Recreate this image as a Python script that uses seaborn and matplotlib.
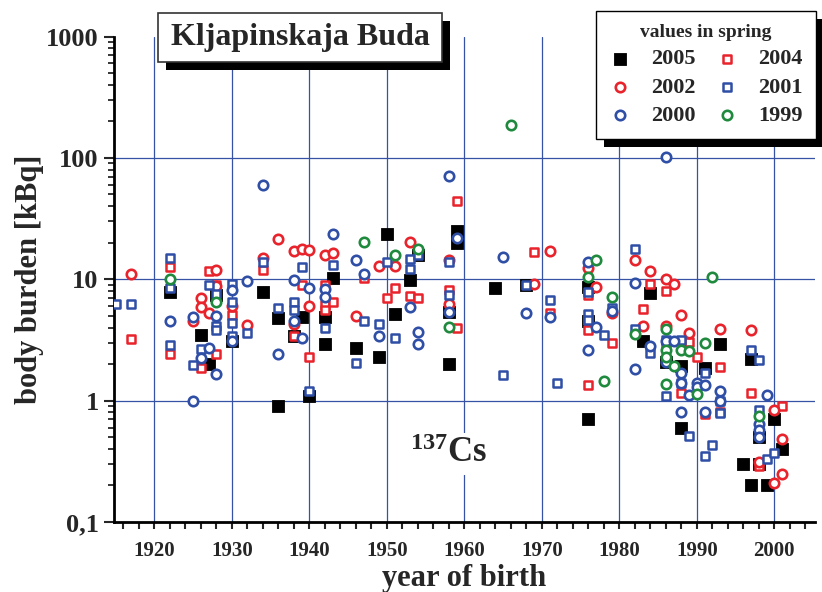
import pandas as pd
import seaborn as sns
import matplotlib.pyplot as plt
from matplotlib.patches import Rectangle
from matplotlib.ticker import MultipleLocator, LogLocator, NullFormatter

# 137Cs body burden [kBq] by year of birth, spring measurements
yr_2005 = [1922, 1926, 1927, 1928, 1930, 1934, 1936, 1936, 1938, 1939, 1940, 1942, 1942, 1943, 1946,
           1949, 1950, 1951, 1953, 1954, 1958, 1958, 1959, 1959, 1964, 1968, 1976, 1976, 1976, 1983,
           1984, 1986, 1988, 1988, 1991, 1993, 1996, 1997, 1997, 1998, 1998, 1999, 2000, 2001]
kbq_2005 = [7.8, 3.5, 2.0, 7.4, 3.1, 7.9, 4.8, 0.9, 3.4, 4.9, 1.09, 4.9, 2.93, 10.3, 2.7,
            2.3, 23.5, 5.15, 9.9, 15.9, 5.4, 2.0, 25, 20, 8.5, 9.0, 8.7, 4.5, 0.70, 3.1,
            7.65, 2.1, 1.93, 0.60, 1.85, 2.93, 0.30, 2.2, 0.20, 0.50, 0.30, 0.20, 0.71, 0.40]

yr_2004 = [1917, 1922, 1922, 1926, 1927, 1928, 1928, 1930, 1934, 1938, 1939, 1940, 1942, 1942, 1942,
           1943, 1947, 1950, 1951, 1953, 1954, 1958, 1959, 1959, 1969, 1971, 1976, 1976, 1976, 1976,
           1979, 1983, 1984, 1986, 1986, 1988, 1989, 1990, 1991, 1993, 1993, 1997, 1998, 2001]
kbq_2004 = [3.2, 12.5, 2.4, 1.87, 11.7, 9.0, 2.4, 5.1, 12.0, 3.4, 9.0, 2.3, 9.0, 6.1, 5.6,
            6.5, 10.2, 7.05, 8.4, 7.3, 7.0, 8.2, 44, 4.0, 16.8, 5.3, 7.4, 4.6, 3.8, 1.34,
            2.97, 5.66, 9.2, 8.0, 2.7, 1.16, 3.05, 2.3, 0.77, 1.88, 0.8, 1.16, 0.29, 0.90]

yr_2002 = [1917, 1925, 1926, 1926, 1927, 1928, 1928, 1930, 1932, 1934, 1936, 1938, 1938, 1939, 1940,
           1940, 1942, 1943, 1946, 1949, 1951, 1953, 1958, 1958, 1969, 1971, 1976, 1977, 1979, 1982,
           1983, 1984, 1986, 1986, 1987, 1988, 1989, 1993, 1997, 1998, 2000, 2000, 2001, 2001]
kbq_2002 = [11, 4.5, 7.0, 5.9, 5.3, 12, 8.8, 6.0, 4.2, 15, 21.5, 17, 4.3, 17.8, 17.4,
            6.0, 15.9, 16.4, 5.0, 12.9, 12.9, 20.4, 14.4, 6.2, 9.1, 17, 12.3, 8.7, 5.25, 14.4,
            4.1, 11.8, 10, 4.1, 9.2, 5.1, 3.6, 3.87, 3.8, 0.31, 0.84, 0.21, 0.48, 0.25]

yr_2001 = [1915, 1917, 1922, 1922, 1922, 1925, 1926, 1927, 1928, 1928, 1928, 1930, 1930, 1930, 1930,
           1932, 1934, 1936, 1938, 1938, 1939, 1940, 1942, 1943, 1946, 1947, 1949, 1950, 1951, 1953,
           1953, 1954, 1958, 1958, 1965, 1968, 1971, 1972, 1976, 1976, 1976, 1978, 1979, 1982, 1982,
           1984, 1986, 1986, 1988, 1988, 1989, 1991, 1991, 1992, 1993, 1993, 1997, 1998, 1998, 1999,
           2000]
kbq_2001 = [6.3, 6.3, 15, 8.4, 2.9, 1.97, 2.65, 9.0, 7.6, 4.1, 3.8, 9.1, 6.5, 4.4, 3.4,
            3.6, 14, 5.8, 6.5, 5.6, 12.5, 1.19, 4.0, 13, 2.03, 4.5, 4.3, 14, 3.25, 14.8,
            12.1, 15.9, 14, 7.4, 1.63, 9.0, 6.7, 1.41, 7.9, 5.2, 4.6, 3.5, 5.8, 17.7, 3.87,
            2.45, 3.16, 1.1, 3.16, 1.39, 0.51, 1.7, 0.35, 0.43, 1.0, 0.79, 2.6, 2.18, 0.84, 0.33,
            0.37]

yr_2000 = [1922, 1925, 1925, 1926, 1927, 1928, 1928, 1930, 1930, 1932, 1934, 1936, 1938, 1938, 1939,
           1940, 1942, 1942, 1943, 1946, 1947, 1949, 1953, 1954, 1954, 1958, 1958, 1959, 1965, 1968,
           1971, 1976, 1976, 1977, 1979, 1982, 1982, 1984, 1986, 1986, 1986, 1987, 1988, 1988, 1988,
           1989, 1990, 1990, 1991, 1991, 1993, 1993, 1998, 1998, 1998, 1999]
kbq_2000 = [4.56, 4.9, 1.0, 2.26, 2.73, 5.0, 1.67, 8.2, 3.1, 9.6, 60, 2.4, 9.9, 4.5, 3.26,
            8.4, 8.3, 7.2, 23.6, 14.4, 11, 3.4, 5.95, 3.7, 2.93, 71, 5.4, 22, 15.2, 5.3,
            4.9, 14, 2.6, 4.07, 5.5, 9.3, 1.81, 2.82, 101, 3.12, 2.09, 3.12, 1.7, 1.39, 0.80,
            1.11, 1.41, 1.3, 1.35, 0.80, 1.21, 1.0, 0.64, 0.57, 0.50, 1.11]

yr_1999 = [1922, 1928, 1947, 1951, 1954, 1958, 1966, 1976, 1977, 1978, 1979, 1982, 1986, 1986, 1986,
           1986, 1987, 1988, 1989, 1990, 1991, 1992, 1998]
kbq_1999 = [10, 6.5, 20.2, 15.7, 17.7, 4.03, 187, 10.5, 14.4, 1.45, 7.2, 3.54, 3.9, 2.6, 2.3,
            1.37, 1.93, 2.61, 2.55, 1.14, 2.97, 10.5, 0.74]

RED = '#e8232b'
BLUE = '#2f4ea6'
GREEN = '#1f8a3e'
GRID = '#3552a5'

# (label, years, values, marker, face, edge, size, lw)
series = [
    ('2005', yr_2005, kbq_2005, 's', 'black', 'black', 82, 0.6),
    ('2004', yr_2004, kbq_2004, 's', 'white', RED, 36, 1.8),
    ('2002', yr_2002, kbq_2002, 'o', 'white', RED, 46, 1.9),
    ('2001', yr_2001, kbq_2001, 's', 'white', BLUE, 36, 1.8),
    ('2000', yr_2000, kbq_2000, 'o', 'white', BLUE, 46, 1.9),
    ('1999', yr_1999, kbq_1999, 'o', 'white', GREEN, 46, 1.9),
]

sns.set_theme(style='white')
plt.rcParams['font.family'] = ['Liberation Serif', 'DejaVu Serif']
plt.rcParams['font.weight'] = 'bold'
plt.rcParams['mathtext.fontset'] = 'custom'
plt.rcParams['mathtext.rm'] = 'Liberation Serif:bold'
plt.rcParams['mathtext.bf'] = 'Liberation Serif:bold'
plt.rcParams['mathtext.default'] = 'bf'

W, H = 822, 592
fig = plt.figure(figsize=(W / 100, H / 100), dpi=100)
ax = fig.add_axes([114 / W, 1 - 522 / H, 701 / W, 485.5 / H])
ax.set_facecolor('none')

handles = {}
for lab, yrs, vals, mk, fc, ec, sz, lw in series:
    df = pd.DataFrame({'year': yrs, 'kbq': vals})
    sns.scatterplot(data=df, x='year', y='kbq', ax=ax, marker=mk, color=fc,
                    edgecolor=ec, s=sz, linewidth=lw, legend=False, zorder=3)
    handles[lab] = ax.collections[-1]

ax.set_yscale('log')
ax.set_xlim(1914.8, 2005.25)
ax.set_ylim(0.1, 1000)

ax.set_yticks([0.1, 1, 10, 100, 1000])
ax.set_yticklabels(['0,1', '1', '10', '100', '1000'])
ax.yaxis.set_minor_locator(LogLocator(base=10, subs=range(2, 10)))
ax.yaxis.set_minor_formatter(NullFormatter())
ax.set_xticks(range(1920, 2001, 10))
ax.xaxis.set_minor_locator(MultipleLocator(2))

ax.tick_params(axis='y', which='major', direction='out', length=7, width=1.5, labelsize=19, pad=4, left=True)
ax.tick_params(axis='y', which='minor', direction='out', length=4, width=1.3, left=True)
ax.tick_params(axis='x', which='both', direction='out', length=5, width=1.5, labelsize=15, pad=9, bottom=True)
for t in ax.get_xticklabels() + ax.get_yticklabels():
    t.set_fontweight('bold')

for s in ['top', 'right']:
    ax.spines[s].set_visible(False)
for s in ['left', 'bottom']:
    ax.spines[s].set_color('black')
    ax.spines[s].set_linewidth(2)

ax.grid(True, which='major', color=GRID, linewidth=0.9)
ygl = ax.yaxis.get_gridlines()
ygl[0].set_visible(False)
ygl[-1].set_visible(False)

ax.set_xlabel('year of birth', fontsize=22, fontweight='bold')
ax.set_ylabel('body burden [kBq]', fontsize=22, fontweight='bold')
ax.xaxis.set_label_coords(0.5, -0.087)
ax.yaxis.set_label_coords(-0.100, 0.5)

ax.text(1953.0, 0.31, r'$^{137}$Cs', fontsize=25, fontweight='bold', va='baseline', zorder=2.5,
        bbox=dict(facecolor='white', edgecolor='none', pad=3))

# title box with drop shadow
fig.patches.append(Rectangle((166 / W, 1 - 70 / H), 284 / W, 49 / H, transform=fig.transFigure,
                             facecolor='black', edgecolor='none', zorder=5))
fig.patches.append(Rectangle((158 / W, 1 - 62 / H), 284 / W, 49 / H, transform=fig.transFigure,
                             facecolor='white', edgecolor='#333333', linewidth=1.2, zorder=6))
fig.text(300 / W, 1 - 38 / H, 'Kljapinskaja Buda', fontsize=23, fontweight='bold',
         ha='center', va='center', zorder=7)

order = ['2005', '2002', '2000', '2004', '2001', '1999']
leg = ax.legend([handles[k] for k in order], order, ncol=2, title='values in spring',
                loc='upper right', bbox_to_anchor=(816 / W, 1 - 11 / H), bbox_transform=fig.transFigure,
                frameon=True, fancybox=False, framealpha=1, edgecolor='black',
                prop={'size': 16, 'weight': 'bold'}, title_fontproperties={'size': 14, 'weight': 'bold'},
                handlelength=1.0, handletextpad=0.9, columnspacing=0.9, labelspacing=0.34,
                borderpad=0.6, borderaxespad=0)
leg.get_frame().set_linewidth(1.0)
leg.set_zorder(10)

fig.canvas.draw()
bb = leg.get_window_extent()
ax.add_patch(Rectangle((bb.x0 + 8, bb.y0 - 8), bb.width, bb.height, transform=None,
                       facecolor='black', edgecolor='none', zorder=9, clip_on=False))

fig.savefig('out.png', dpi=100)
